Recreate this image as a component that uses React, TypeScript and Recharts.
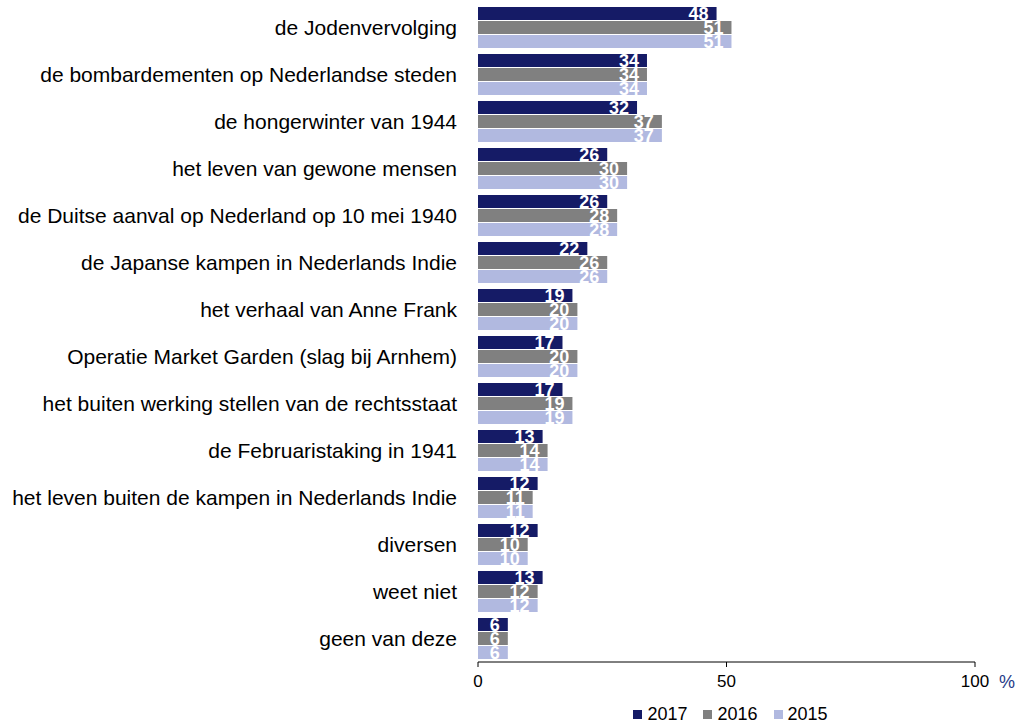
import React from 'react';
import { BarChart, Bar, XAxis, YAxis, Legend, LabelList } from 'recharts';

const categories = [
  'de Jodenvervolging',
  'de bombardementen op Nederlandse steden',
  'de hongerwinter van 1944',
  'het leven van gewone mensen',
  'de Duitse aanval op Nederland op 10 mei 1940',
  'de Japanse kampen in Nederlands Indie',
  'het verhaal van Anne Frank',
  'Operatie Market Garden (slag bij Arnhem)',
  'het buiten werking stellen van de rechtsstaat',
  'de Februaristaking in 1941',
  'het leven buiten de kampen in Nederlands Indie',
  'diversen',
  'weet niet',
  'geen van deze',
];

const values2017 = [48, 34, 32, 26, 26, 22, 19, 17, 17, 13, 12, 12, 13, 6];
const values2016 = [51, 34, 37, 30, 28, 26, 20, 20, 19, 14, 11, 10, 12, 6];
const values2015 = [51, 34, 37, 30, 28, 26, 20, 20, 19, 14, 11, 10, 12, 6];

const xTicks = [0, 50, 100];

const series = [
  { key: 'y2017', name: '2017', color: '#151b66' },
  { key: 'y2016', name: '2016', color: '#808080' },
  { key: 'y2015', name: '2015', color: '#b1b9e0' },
];

const FONT = '"Liberation Sans", Arial, sans-serif';

const data = categories.map((name, i) => ({
  name,
  y2017: values2017[i],
  y2016: values2016[i],
  y2015: values2015[i],
}));

const XTick = ({ x, y, payload }: any) => (
  <g>
    <text x={x} y={y} dy="0.71em" textAnchor="middle" fill="#000" fontSize={17} fontFamily={FONT}>
      {payload.value}
    </text>
    {payload.value === 100 && (
      <text x={x + 24} y={y} dy="0.71em" textAnchor="start" fill="#1f3c88" fontSize={18} fontFamily={FONT}>
        %
      </text>
    )}
  </g>
);

// legend in the series order, black text
const LegendContent = () => (
  <div style={{ display: 'flex', justifyContent: 'center', alignItems: 'center', fontSize: 18, color: '#000', fontFamily: FONT, lineHeight: '22px' }}>
    {series.map((s, i) => (
      <span key={s.key} style={{ display: 'inline-flex', alignItems: 'center', marginRight: i < series.length - 1 ? 16 : 0 }}>
        <span style={{ display: 'inline-block', width: 9, height: 9, background: s.color, marginRight: 5 }} />
        {s.name}
      </span>
    ))}
  </div>
);

const barLabel = { fill: '#fff', fontSize: 18, fontWeight: 'bold', fontFamily: FONT } as const;

export default function App() {
  return (
    <div style={{ position: 'absolute', left: 0, top: 0, fontFamily: FONT }}>
      <BarChart
        width={1015}
        height={725}
        data={data}
        layout="vertical"
        margin={{ top: 4, right: 40, left: 0, bottom: 11 }}
        barCategoryGap={3}
        barGap={1}
      >
        <XAxis
          type="number"
          domain={[0, 100]}
          ticks={xTicks}
          stroke="#000"
          tickSize={5}
          tickMargin={8}
          height={30}
          tick={<XTick />}
        />
        <YAxis
          type="category"
          dataKey="name"
          width={478}
          axisLine={false}
          tickLine={false}
          tickMargin={15}
          tick={{ fill: '#000', fontSize: 21, fontFamily: FONT }}
        />
        <Legend
          verticalAlign="bottom"
          content={<LegendContent />}
          wrapperStyle={{ left: 482, width: 497, bottom: 0 }}
        />
        {series.map(s => (
          <Bar key={s.key} dataKey={s.key} name={s.name} fill={s.color} isAnimationActive={false}>
            <LabelList dataKey={s.key} position="insideRight" offset={8} style={barLabel} />
          </Bar>
        ))}
      </BarChart>
    </div>
  );
}
